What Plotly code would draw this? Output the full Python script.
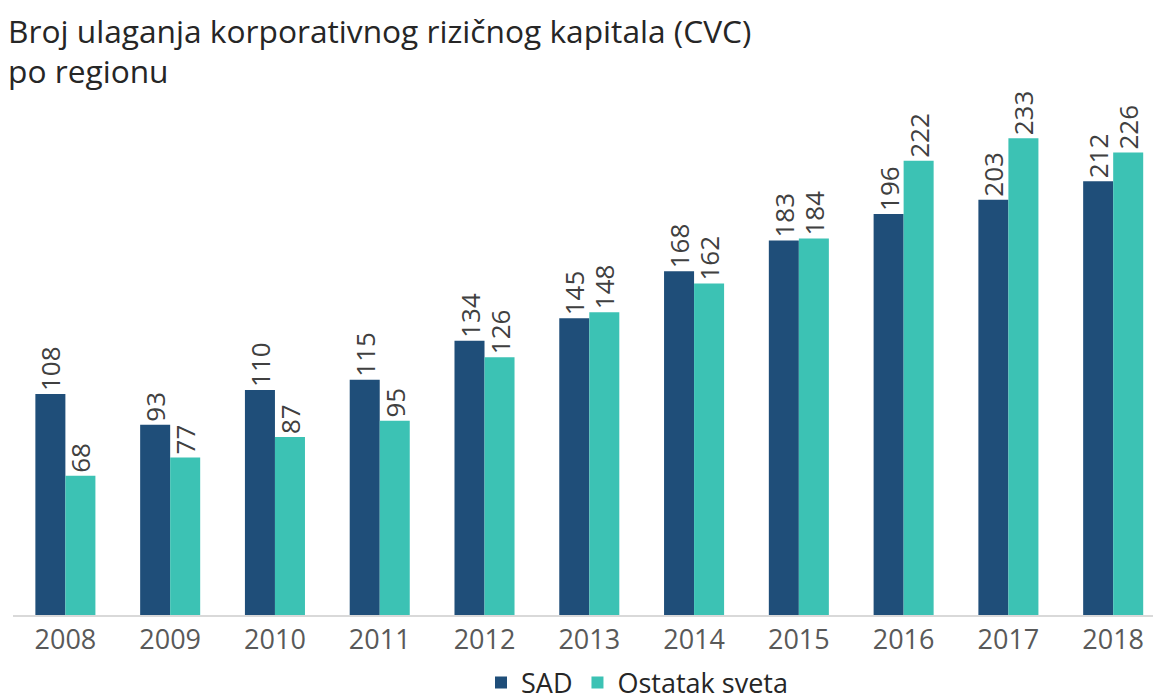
import plotly.graph_objects as go

years = ["2008", "2009", "2010", "2011", "2012", "2013", "2014", "2015", "2016", "2017", "2018"]
sad = [108, 93, 110, 115, 134, 145, 168, 183, 196, 203, 212]
ostatak = [68, 77, 87, 95, 126, 148, 162, 184, 222, 233, 226]
series_names = ["SAD", "Ostatak sveta"]
title_lines = ["Broj ulaganja korporativnog rizičnog kapitala (CVC)", "po regionu"]

FONT = "Open Sans"
W, H = 1153, 700
left, right, top, bottom = 12.6, 0, 110, 85
plot_w = W - left - right
plot_h = H - top - bottom
px_per_unit = 2.046
ymax = plot_h / px_per_unit

fig = go.Figure()
for name, vals, col in [(series_names[0], sad, "#1F4E79"), (series_names[1], ostatak, "#3CC2B4")]:
    fig.add_trace(go.Bar(
        x=years, y=vals, name=name,
        marker=dict(color=col, line=dict(width=0)),
        text=[str(v) for v in vals],
        textposition="outside",
        textangle=-90,
        constraintext="none",
        textfont=dict(family=FONT, size=26, color="#404040"),
        cliponaxis=False,
    ))

def px_to_py(y_px):
    return (H - bottom - y_px) / plot_h

def px_to_px_paper(x_px):
    return (x_px - left) / plot_w

for i, (line, yc) in enumerate(zip(title_lines, [30, 71])):
    fig.add_annotation(
        text=line, xref="paper", yref="paper",
        x=px_to_px_paper(6), y=px_to_py(yc), xanchor="left", yanchor="middle",
        showarrow=False, font=dict(family=FONT, size=31.7, color="#262626"),
    )

fig.update_layout(
    width=W, height=H,
    barmode="group", bargap=0.427, bargroupgap=0,
    plot_bgcolor="white", paper_bgcolor="white",
    margin=dict(l=left, r=right, t=top, b=bottom, pad=0),
    showlegend=True,
    legend=dict(orientation="h", xref="container", yref="container",
                x=481 / W, xanchor="left", y=(H - 683) / H, yanchor="middle",
                font=dict(family=FONT, size=27, color="#262626"), traceorder="normal",
                itemclick=False, borderwidth=0, bgcolor="rgba(0,0,0,0)"),
)
fig.update_xaxes(
    type="category", range=[-0.5, 10.38],
    showline=True, linecolor="#D9D9D9", linewidth=2,
    ticks="", showgrid=False,
    tickfont=dict(family=FONT, size=27, color="#595959"),
)
fig.update_yaxes(range=[0, ymax], visible=False, showgrid=False, zeroline=False)

fig.write_html("out.html", config={"displayModeBar": False},
               post_script="document.body.style.margin='0';document.body.style.padding='0';")
